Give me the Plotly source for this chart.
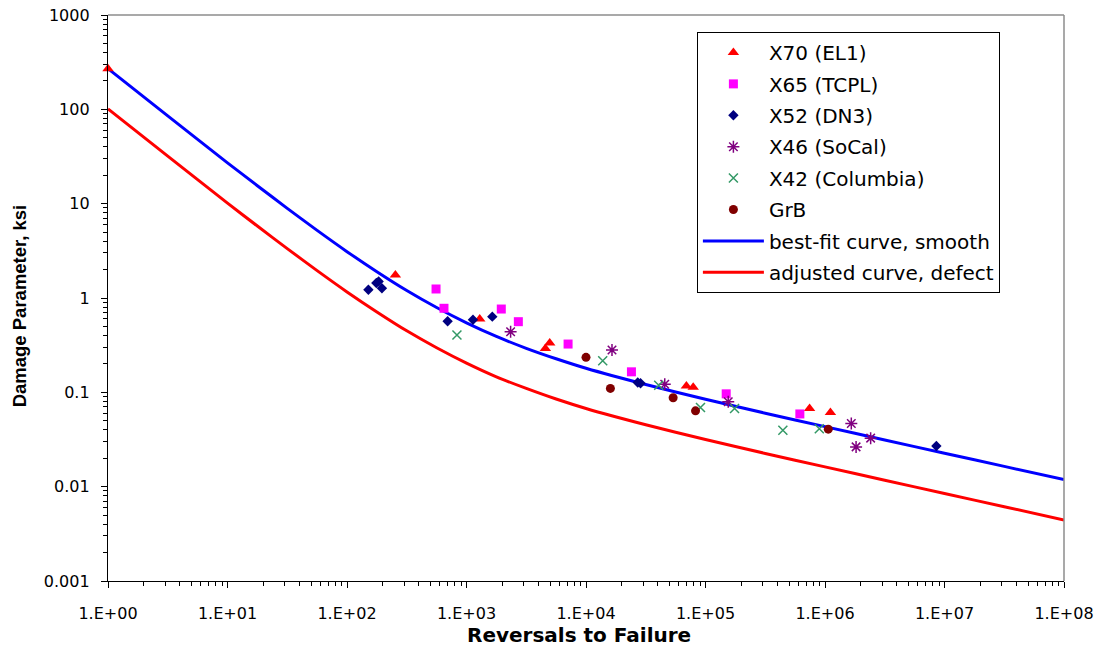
import plotly.graph_objects as go

# ---- test data: damage parameter (ksi) vs reversals to failure ----
x70_N = [1, 254, 1290, 4570, 4970, 69200, 78900, 743000, 1.11e6]
x70_D = [270, 1.75, 0.60, 0.292, 0.333, 0.117, 0.113, 0.0675, 0.061]

x65_N = [556, 648, 1955, 2716, 7080, 24000, 149000, 616000]
x65_D = [1.246, 0.778, 0.764, 0.561, 0.325, 0.165, 0.0964, 0.059]

x52_N = [151, 176, 184, 196, 695, 1133, 1644, 27100, 28600, 8.55e6]
x52_D = [1.225, 1.443, 1.50, 1.27, 0.566, 0.589, 0.634, 0.127, 0.125, 0.027]

x46_N = [2340, 16500, 45600, 155000, 1.66e6, 2.41e6, 1.82e6]
x46_D = [0.439, 0.281, 0.122, 0.0793, 0.0468, 0.0327, 0.0264]

x42_N = [832, 13800, 40600, 90800, 175000, 444000, 896000]
x42_D = [0.405, 0.216, 0.119, 0.069, 0.0675, 0.0396, 0.0412]

grb_N = [10000, 16000, 53600, 82500, 1.065e6]
grb_D = [0.235, 0.110, 0.0875, 0.0636, 0.0407]

# ---- fatigue curves ----
curve_N = [1, 3.162, 10, 17.78, 31.62, 56.23, 100, 177.8, 316.2, 562.3, 1000,
           1778, 3162, 5623, 1e4, 3.162e4, 1e5, 3.162e5, 1e6, 3.162e6, 1e7,
           3.162e7, 1e8]
best_fit = [270, 85.1, 27.1, 15.5, 8.91, 5.21, 3.10, 1.90, 1.20, 0.792, 0.545,
            0.391, 0.293, 0.227, 0.180, 0.121, 0.0843, 0.0601, 0.0433, 0.0313,
            0.0226, 0.0164, 0.0119]
adjusted = [101, 31.9, 10.15, 5.79, 3.34, 1.95, 1.16, 0.712, 0.449, 0.297, 0.204,
            0.146, 0.110, 0.0849, 0.0674, 0.0453, 0.0316, 0.0225, 0.0162, 0.0117,
            0.00846, 0.00613, 0.00444]

# ---- axis ticks ----
x_tickvals = [10 ** k for k in range(0, 9)]
x_ticktext = ["1.E+0%d" % k for k in range(0, 9)]
y_tickvals = [0.001, 0.01, 0.1, 1, 10, 100, 1000]
y_ticktext = ["0.001", "0.01", "0.1", "1", "10", "100", "1000"]

x_minor = [m * 10 ** k for k in range(0, 8) for m in range(2, 10)]
y_minor = [m * 10.0 ** k for k in range(-3, 3) for m in range(2, 10)]

WIDE = "DejaVu Sans"
ARIAL = "Liberation Sans, Arial"

fig = go.Figure()

# curves first so the markers sit on top of them
fig.add_trace(go.Scatter(x=curve_N, y=best_fit, mode="lines",
                         name="best-fit curve, smooth", legendrank=7,
                         legendgroup="g7",
                         line=dict(color="#0000FF", width=3, shape="spline",
                                   smoothing=0.6)))
fig.add_trace(go.Scatter(x=curve_N, y=adjusted, mode="lines",
                         name="adjusted curve, defect", legendrank=8,
                         legendgroup="g8",
                         line=dict(color="#FF0000", width=3, shape="spline",
                                   smoothing=0.6)))

series = [
    ("X70 (EL1)", x70_N, x70_D, dict(symbol="triangle-up", size=10, color="#FF0000")),
    ("X65 (TCPL)", x65_N, x65_D, dict(symbol="square", size=9, color="#FF00FF")),
    ("X52 (DN3)", x52_N, x52_D, dict(symbol="diamond", size=8, color="#000080")),
    ("X46 (SoCal)", x46_N, x46_D, dict(symbol="asterisk-open", size=10,
                                       color="#800080",
                                       line=dict(color="#800080", width=1.5))),
    ("X42 (Columbia)", x42_N, x42_D, dict(symbol="x-thin-open", size=9,
                                          color="#339966",
                                          line=dict(color="#339966", width=1.5))),
    ("GrB", grb_N, grb_D, dict(symbol="circle", size=9, color="#800000")),
]
for i, (name, xs, ys, mk) in enumerate(series):
    fig.add_trace(go.Scatter(x=xs, y=ys, mode="markers", name=name,
                             legendrank=i + 1, legendgroup="g%d" % (i + 1),
                             cliponaxis=False, marker=mk))

axis_common = dict(
    type="log", showgrid=False, zeroline=False, showline=True,
    linecolor="#000000", linewidth=1.3, ticks="outside", ticklen=6,
    tickwidth=1.2, tickcolor="#000000", automargin=False,
    tickfont=dict(family=WIDE, size=16, color="#000000"),
)

fig.update_xaxes(range=[0, 8], tickmode="array", tickvals=x_tickvals,
                 ticktext=x_ticktext, ticklabelstandoff=12,
                 minor=dict(tickmode="array", tickvals=x_minor, ticks="outside",
                            ticklen=3.5, tickwidth=1, tickcolor="#000000"),
                 **axis_common)
fig.update_yaxes(range=[-3, 3], tickmode="array", tickvals=y_tickvals,
                 ticktext=y_ticktext, ticklabelstandoff=8,
                 minor=dict(tickmode="array", tickvals=y_minor, ticks="outside",
                            ticklen=3.5, tickwidth=1, tickcolor="#000000"),
                 **axis_common)

fig.update_layout(
    width=1098, height=651,
    margin=dict(l=108, r=34, t=15, b=70, autoexpand=False),
    paper_bgcolor="#FFFFFF", plot_bgcolor="#FFFFFF",
    showlegend=True,
    legend=dict(x=0.616, y=0.97, xanchor="left", yanchor="top",
                bgcolor="#FFFFFF", bordercolor="#000000", borderwidth=1,
                font=dict(family=WIDE, size=20, color="#000000"),
                traceorder="grouped", tracegroupgap=2.4, itemwidth=61),
    shapes=[
        dict(type="line", xref="paper", yref="paper", x0=0, x1=1, y0=1, y1=1,
             line=dict(color="#8C8C8C", width=1.5)),
        dict(type="line", xref="paper", yref="paper", x0=1, x1=1, y0=0, y1=1,
             line=dict(color="#8C8C8C", width=1.5)),
    ],
    annotations=[
        dict(text="<b>Reversals to Failure</b>", xref="paper", yref="paper",
             x=0.4927, y=-0.095, xanchor="center", yanchor="middle",
             showarrow=False,
             font=dict(family=WIDE, size=20, color="#000000")),
        dict(text="<b>Damage Parameter, ksi</b>", xref="paper", yref="paper",
             x=-0.0931, y=0.487, xanchor="center", yanchor="middle",
             textangle=-90, showarrow=False,
             font=dict(family=ARIAL, size=18.5, color="#000000")),
    ],
)

fig.write_html("out.html")
